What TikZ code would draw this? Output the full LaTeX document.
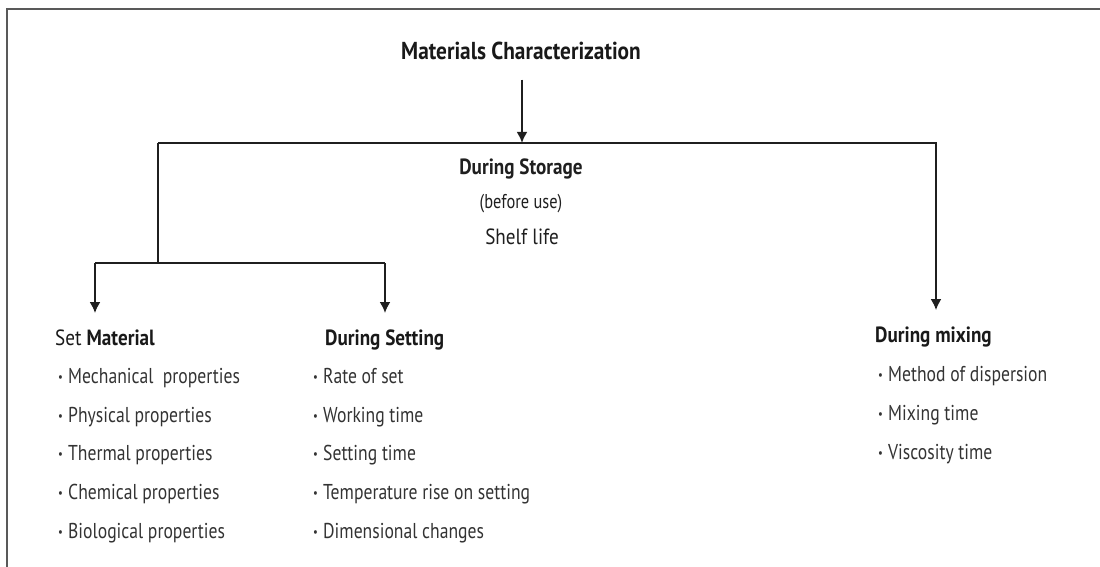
\documentclass[tikz,border=0pt]{standalone}
\usepackage{fontspec}
\setmainfont{PT Sans}[FakeStretch=0.82]
\newfontfamily\headfont{PT Sans}[FakeStretch=0.87]
\usepackage{tikz}
\usetikzlibrary{arrows.meta, calc, positioning}
\tikzset{
    frameLine/.style={line width=1.8pt, black!65},
    linkEdge/.style={line width=2.4pt, black!88},
    linkArrow/.style={linkEdge, -{Latex[length=11pt, width=11pt]}},
    titleText/.style={font=\headfont\bfseries\fontsize{24.5}{27}\selectfont, text=black!90, anchor=base, inner xsep=0pt, inner ysep=19pt},
    headText/.style={font=\headfont\bfseries\fontsize{22}{25}\selectfont, text=black!90, anchor=base west, inner xsep=0pt, inner ysep=16pt},
    storeText/.style={anchor=base, inner sep=0pt, text=black!88},
    itemText/.style={font=\fontsize{21.5}{24}\selectfont, text=black!80, anchor=base west, inner sep=0pt},
}
\newcommand{\itemDot}{\makebox[10pt][l]{\raisebox{2pt}{\fontsize{13}{13}\selectfont\textbullet}}}

\begin{document}
\begin{tikzpicture}[x=1pt, y=-1pt]
    \useasboundingbox (0,0) rectangle (1100,567);
    \draw[frameLine] (1100,9) -- (7,9) -- (7,567);

    % title and storage
    \node[titleText] (title) at (521, 60) {Materials Characterization};
    \node[storeText, font=\headfont\bfseries\fontsize{22}{25}\selectfont] (storage) at (521, 175) {During Storage};
    \node[storeText, font=\fontsize{20}{22}\selectfont] (beforeUse) at (521, 208) {(before use)};
    \node[storeText, font=\headfont\fontsize{22}{25}\selectfont] (shelfLife) at (522, 244) {Shelf life};

    % headers
    \node[headText] (setHead) at (55, 345) {\mdseries Set \bfseries Material};
    \node[headText] (settingHead) at (325, 345) {During Setting};
    \node[headText] (mixHead) at (875, 342) {During mixing};

    \coordinate (storeTop) at (522, 143);
    \coordinate (topL) at (158, 143);
    \coordinate (topR) at (936, 143);
    \coordinate (midJ) at (158, 263);
    \coordinate (midL) at (95, 263);
    \coordinate (midR) at (385, 263);

    \draw[linkArrow] (title.south -| storeTop) -- (storeTop);
    \draw[linkArrow] (topL) -- (topR) -- (topR |- mixHead.north);
    \draw[linkEdge] (topL) -- (midJ);
    \draw[linkEdge] (midL) -- (midR);
    \draw[linkArrow] (midL) -- (midL |- setHead.north);
    \draw[linkArrow] (midR) -- (midR |- settingHead.north);

    % lists
    \foreach \txt [count=\i] in {Mechanical\ \ properties, Physical properties, Thermal properties, Chemical properties, Biological\ properties}
        \node[itemText] (setItem\i) at (58, {344.55+38.75*\i}) {\itemDot\txt};
    \foreach \txt [count=\i] in {Rate of set, Working time, Setting\ time, Temperature rise on setting, Dimensional changes}
        \node[itemText] (settingItem\i) at (313, {344.55+38.75*\i}) {\itemDot\txt};
    \foreach \txt [count=\i] in {Method of dispersion, Mixing time, Viscosity time}
        \node[itemText] (mixItem\i) at (878, {342+39*\i}) {\itemDot\txt};

\end{tikzpicture}
\end{document}
